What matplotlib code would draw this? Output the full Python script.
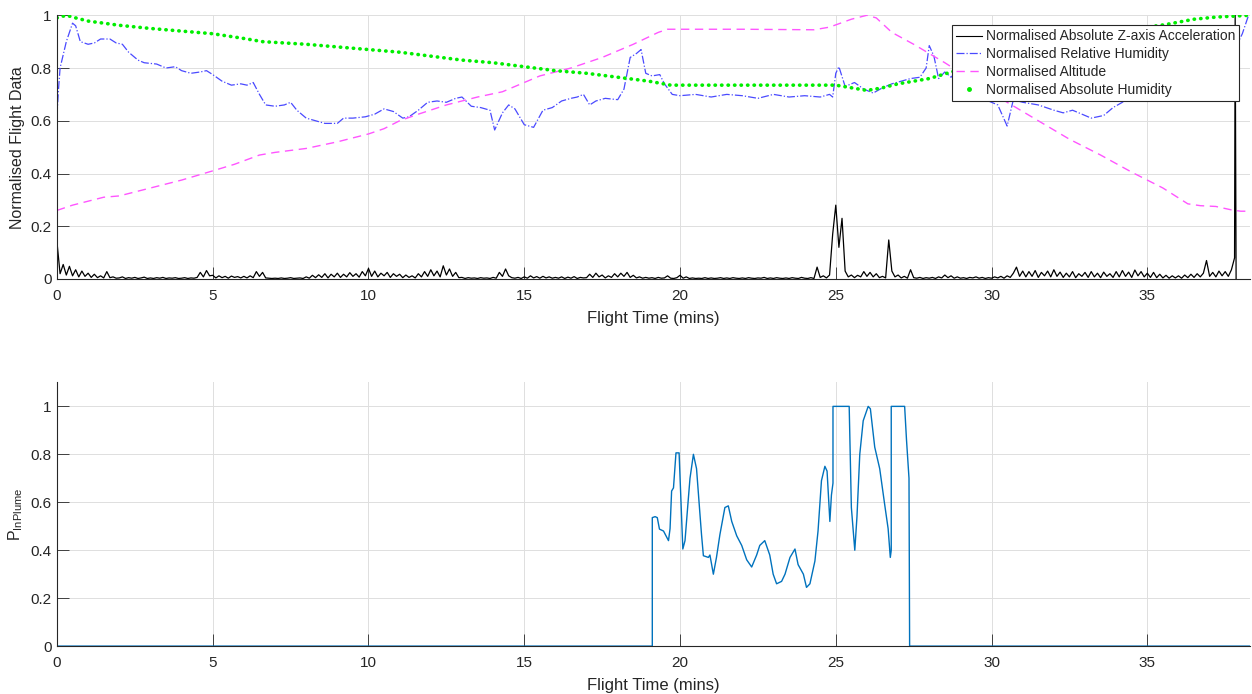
import numpy as np
import matplotlib.pyplot as plt
from matplotlib.lines import Line2D
from matplotlib.ticker import FuncFormatter

plt.rcParams['font.family'] = ['Liberation Sans', 'DejaVu Sans']
plt.rcParams['font.size'] = 10

# Normalised absolute Z-axis acceleration, one sample every 0.1 min (thousandths)
accel_milli = [
    140, 20, 55, 15, 48, 12, 35, 8, 30, 10,
    22, 6, 18, 5, 12, 4, 28, 5, 8, 3,
    4, 8, 2, 5, 3, 6, 2, 4, 7, 2,
    4, 2, 5, 3, 6, 2, 4, 3, 5, 2,
    3, 5, 2, 4, 3, 6, 25, 8, 32, 12,
    14, 4, 12, 5, 10, 3, 11, 6, 9, 4,
    10, 4, 12, 5, 28, 10, 25, 4, 3, 2,
    3, 2, 4, 2, 3, 5, 2, 3, 4, 2,
    8, 3, 14, 5, 16, 6, 20, 4, 18, 8,
    22, 6, 18, 8, 24, 10, 20, 7, 28, 12,
    40, 10, 30, 8, 22, 12, 25, 6, 20, 10,
    18, 5, 15, 6, 12, 4, 20, 8, 28, 10,
    35, 12, 30, 8, 50, 15, 38, 10, 25, 5,
    6, 2, 5, 3, 4, 2, 5, 3, 4, 2,
    6, 3, 25, 10, 38, 12, 5, 3, 6, 2,
    8, 3, 12, 4, 9, 3, 10, 4, 8, 3,
    6, 3, 8, 2, 7, 3, 9, 2, 6, 4,
    5, 18, 6, 22, 8, 15, 4, 12, 6, 20,
    8, 22, 10, 25, 6, 14, 4, 8, 3, 6,
    3, 5, 2, 6, 3, 4, 12, 3, 2, 5,
    14, 3, 8, 2, 4, 2, 3, 2, 5, 2,
    4, 2, 3, 5, 2, 4, 2, 5, 3, 2,
    4, 2, 5, 3, 2, 4, 3, 6, 2, 4,
    2, 5, 3, 2, 4, 2, 5, 3, 2, 6,
    3, 2, 5, 2, 45, 6, 12, 4, 15, 170,
    280, 120, 230, 30, 8, 15, 5, 14, 8, 28,
    10, 25, 8, 20, 5, 10, 4, 148, 30, 8,
    15, 4, 10, 3, 35, 5, 3, 6, 2, 5,
    3, 6, 2, 8, 4, 15, 5, 12, 3, 8,
    3, 5, 2, 6, 4, 8, 3, 6, 2, 5,
    3, 8, 4, 10, 3, 12, 6, 22, 45, 10,
    30, 8, 28, 10, 32, 6, 25, 12, 30, 8,
    35, 10, 26, 6, 22, 8, 28, 5, 20, 10,
    25, 6, 28, 8, 22, 5, 26, 10, 20, 6,
    28, 8, 32, 10, 26, 6, 34, 12, 28, 8,
    22, 6, 25, 5, 18, 4, 14, 3, 12, 4,
    12, 3, 15, 5, 18, 6, 20, 8, 22, 70,
    10, 25, 8, 30, 12, 28, 10, 35, 80,
]
accel_end_t = [37.82, 37.85]
accel_end_v = [1.0, 0.0]

# Normalised relative humidity
rh_t = [0, 0.05, 0.1, 0.3, 0.5, 0.6, 0.75, 1.0, 1.2, 1.4, 1.7, 1.9, 2.1, 2.3, 2.6,
        2.8, 3.2, 3.5, 3.8, 4.0, 4.3, 4.6, 4.8, 5.0, 5.3, 5.6, 5.9, 6.1, 6.3, 6.5,
        6.7, 7.0, 7.3, 7.5, 7.7, 8.0, 8.3, 8.6, 9.0, 9.2, 9.5, 9.9, 10.2, 10.5,
        10.8, 11.1, 11.3, 11.6, 11.9, 12.2, 12.5, 12.8, 13.0, 13.3, 13.6, 13.9,
        14.05, 14.3, 14.5, 14.7, 15.0, 15.3, 15.6, 15.9, 16.2, 16.5, 16.7, 16.9,
        17.1, 17.3, 17.6, 18.0, 18.2, 18.4, 18.6, 18.75, 18.9, 19.1, 19.35, 19.5,
        19.75, 20.0, 20.5, 21.0, 21.5, 22.0, 22.5, 23.0, 23.5, 24.0, 24.5, 24.8,
        24.9, 25.0, 25.1, 25.3, 25.6, 25.9, 26.2, 26.5, 26.8, 27.1, 27.4, 27.7,
        27.9, 28.0, 28.15, 28.3, 28.5, 28.7, 28.9, 29.3, 29.8, 30.2, 30.5, 30.7,
        31.0, 31.5, 32.0, 32.3, 32.6, 32.9, 33.2, 33.6, 33.9, 34.2, 34.5, 35.5,
        36.5, 37.3, 37.8, 38.05, 38.25]
rh_v = [0.62, 0.72, 0.80, 0.90, 0.97, 0.96, 0.90, 0.89, 0.895, 0.91, 0.91, 0.895,
        0.89, 0.86, 0.83, 0.82, 0.815, 0.80, 0.805, 0.79, 0.78, 0.785, 0.79, 0.775,
        0.75, 0.735, 0.74, 0.735, 0.745, 0.70, 0.66, 0.655, 0.66, 0.67, 0.64, 0.61,
        0.60, 0.59, 0.59, 0.61, 0.61, 0.615, 0.625, 0.645, 0.635, 0.61, 0.615, 0.64,
        0.67, 0.675, 0.67, 0.685, 0.69, 0.655, 0.65, 0.64, 0.565, 0.63, 0.66, 0.645,
        0.585, 0.575, 0.64, 0.65, 0.675, 0.685, 0.69, 0.70, 0.66, 0.675, 0.685, 0.68,
        0.72, 0.84, 0.855, 0.87, 0.78, 0.77, 0.775, 0.74, 0.70, 0.695, 0.70, 0.69,
        0.70, 0.695, 0.685, 0.70, 0.69, 0.695, 0.69, 0.70, 0.69, 0.78, 0.805, 0.73,
        0.745, 0.72, 0.705, 0.725, 0.74, 0.75, 0.76, 0.765, 0.80, 0.885, 0.845, 0.76,
        0.785, 0.765, 0.79, 0.74, 0.68, 0.66, 0.58, 0.68, 0.67, 0.66, 0.64, 0.63,
        0.64, 0.625, 0.61, 0.62, 0.65, 0.67, 0.70, 0.74, 0.78, 0.83, 0.87, 0.93, 1.0]

# Normalised altitude
alt_t = [0, 0.5, 1.0, 1.5, 2.0, 3.0, 4.0, 5.0, 5.7, 6.5, 7.0, 8.0, 9.0, 10.0, 10.5,
         11.0, 11.6, 12.5, 13.5, 14.3, 15.0, 15.5, 16.5, 17.5, 18.5, 19.3, 19.6,
         22.0, 24.3, 24.8, 25.5, 26.0, 26.3, 26.8, 27.5, 28.5, 29.5, 30.5, 31.5,
         32.5, 33.5, 34.5, 35.0, 35.5, 36.3, 36.7, 37.2, 37.7, 38.0, 38.3]
alt_v = [0.26, 0.28, 0.295, 0.31, 0.315, 0.345, 0.375, 0.41, 0.435, 0.47, 0.48,
         0.495, 0.52, 0.55, 0.57, 0.60, 0.625, 0.66, 0.69, 0.71, 0.745, 0.77, 0.80,
         0.84, 0.89, 0.935, 0.947, 0.947, 0.945, 0.955, 0.985, 1.0, 0.99, 0.935,
         0.89, 0.82, 0.745, 0.67, 0.60, 0.53, 0.47, 0.405, 0.375, 0.345, 0.285,
         0.278, 0.275, 0.262, 0.257, 0.257]

# Normalised absolute humidity
ah_t = [0, 0.3, 0.6, 1, 2, 3, 4, 5, 6, 6.6, 8, 10, 11, 12, 13, 14, 15, 16, 17, 18,
        19, 19.7, 22, 25, 25.5, 26, 26.5, 27, 28, 29, 30, 31, 32, 33, 34, 35, 35.6,
        36.5, 37.2, 38.3]
ah_v = [0.99, 1.0, 0.99, 0.978, 0.962, 0.95, 0.94, 0.93, 0.912, 0.90, 0.89, 0.87,
        0.86, 0.845, 0.83, 0.82, 0.805, 0.79, 0.78, 0.765, 0.75, 0.735, 0.735,
        0.735, 0.725, 0.715, 0.725, 0.74, 0.76, 0.795, 0.82, 0.85, 0.88, 0.91,
        0.935, 0.955, 0.965, 0.985, 0.993, 1.0]

# Probability of being in the plume
p_t = [0, 19.11, 19.11, 19.20, 19.27, 19.34, 19.47, 19.63, 19.68, 19.73, 19.79,
       19.87, 19.97, 20.09, 20.16, 20.27, 20.32, 20.43, 20.53, 20.64, 20.69, 20.75,
       20.91, 20.96, 21.07, 21.17, 21.28, 21.44, 21.55, 21.66, 21.82, 21.98, 22.14,
       22.30, 22.46, 22.56, 22.72, 22.88, 22.99, 23.10, 23.26, 23.37, 23.53, 23.69,
       23.79, 23.96, 24.06, 24.17, 24.33, 24.43, 24.54, 24.65, 24.72, 24.81, 24.86,
       24.91, 24.91, 25.43, 25.50, 25.61, 25.68, 25.77, 25.88, 26.04, 26.11, 26.25,
       26.41, 26.57, 26.68, 26.75, 26.78, 26.78, 27.21, 27.27, 27.35, 27.37, 38.3]
p_v = [0, 0, 0.536, 0.54, 0.536, 0.488, 0.48, 0.44, 0.49, 0.647, 0.66, 0.806,
       0.806, 0.405, 0.44, 0.62, 0.70, 0.80, 0.74, 0.55, 0.465, 0.377, 0.37, 0.38,
       0.30, 0.37, 0.465, 0.578, 0.585, 0.52, 0.46, 0.42, 0.36, 0.33, 0.38, 0.42,
       0.44, 0.38, 0.30, 0.26, 0.27, 0.30, 0.37, 0.405, 0.34, 0.30, 0.245, 0.26,
       0.355, 0.48, 0.69, 0.75, 0.73, 0.52, 0.63, 0.68, 1.0, 1.0, 0.578, 0.40, 0.54,
       0.80, 0.94, 1.0, 0.99, 0.83, 0.74, 0.59, 0.49, 0.37, 0.40, 1.0, 1.0, 0.86,
       0.70, 0, 0]

accel_t = list(np.round(np.arange(len(accel_milli)) * 0.1, 2)) + accel_end_t
accel_v = list(np.array(accel_milli) / 1000.0) + accel_end_v

dark = '#262626'
xmax = 38.3


def style_axes(ax, ymax):
    ax.set_xlim(0, xmax)
    ax.set_ylim(0, ymax)
    ax.set_xticks([0, 5, 10, 15, 20, 25, 30, 35])
    ax.set_yticks([0, 0.2, 0.4, 0.6, 0.8, 1])
    ax.yaxis.set_major_formatter(FuncFormatter(lambda v, p: f'{v:g}'))
    ax.grid(True, color='#dedede', linewidth=0.7)
    ax.set_axisbelow(True)
    for s in ['top', 'right']:
        ax.spines[s].set_visible(False)
    for s in ['left', 'bottom']:
        ax.spines[s].set_color(dark)
        ax.spines[s].set_linewidth(0.8)
    ax.tick_params(direction='in', length=8.5, width=0.6, colors=dark,
                   labelsize=11, pad=4)
    ax.tick_params(axis='x', pad=7)
    ax.set_xlabel('Flight Time (mins)', fontsize=12, color=dark, labelpad=6)


fig = plt.figure(figsize=(12.52, 6.94), dpi=100)

ax1 = fig.add_axes([0.0455, 0.598, 0.953, 0.380])
style_axes(ax1, 1)
ax1.plot(accel_t, accel_v, color='k', linewidth=0.9)
ax1.plot(rh_t, rh_v, color='#4a4aff', linestyle='-.', linewidth=0.9)
ax1.plot(alt_t, alt_v, color='#ff55ff', linestyle='--', linewidth=1.0, dashes=(6, 4))
ax1.plot(ah_t, ah_v, color='#00ee00', linestyle=(0, (0.1, 1.7)), linewidth=2.6,
         dash_capstyle='round')
ax1.set_ylabel('Normalised Flight Data', fontsize=11.5, color=dark, labelpad=4)

handles = [
    Line2D([], [], color='k', linewidth=0.8),
    Line2D([], [], color='#4a4aff', linestyle='-.', linewidth=0.9),
    Line2D([], [], color='#ff55ff', linestyle='--', linewidth=1.0, dashes=(6, 4)),
    Line2D([], [], color='#00ee00', linestyle='none', marker='.', markersize=5),
]
labels = ['Normalised Absolute Z-axis Acceleration', 'Normalised Relative Humidity',
          'Normalised Altitude', 'Normalised Absolute Humidity']
leg = ax1.legend(handles, labels, loc='upper right', bbox_to_anchor=(0.991, 0.962),
                 fancybox=False, framealpha=1, edgecolor=dark, fontsize=10,
                 handlelength=1.9, handletextpad=0.25, labelspacing=0.28,
                 borderpad=0.3, borderaxespad=0)
leg.get_frame().set_linewidth(0.8)
for t in leg.get_texts():
    t.set_color(dark)

ax2 = fig.add_axes([0.0455, 0.069, 0.953, 0.380])
style_axes(ax2, 1.1)
ax2.plot(p_t, p_v, color='#0072BD', linewidth=1.0)
ax2.set_ylabel(r'P$_{\mathregular{InPlume}}$', fontsize=11.5, color=dark, labelpad=4)

fig.savefig('out.png', dpi=100)
